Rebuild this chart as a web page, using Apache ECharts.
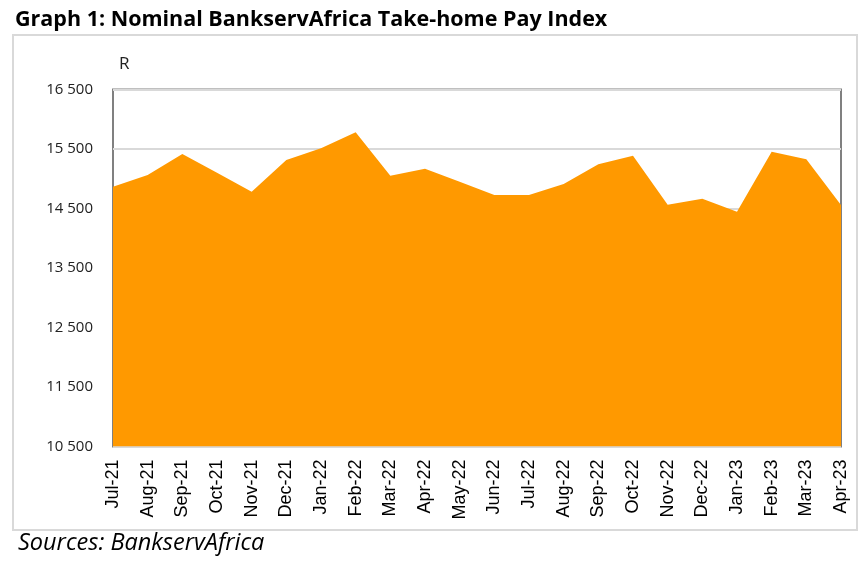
<!DOCTYPE html>
<html>
<head>
  <meta charset="utf-8">
  <title>Graph 1: Nominal BankservAfrica Take-home Pay Index</title>
  <script src="https://cdn.jsdelivr.net/npm/echarts@6/dist/echarts.min.js"></script>
  <style>
    body { margin: 0; background: #fff; }
  </style>
</head>
<body>
  <div id="main" style="width: 867px;height:571px;"></div>
  <script type="text/javascript">
    // months on the x axis
    var months = ['Jul-21', 'Aug-21', 'Sep-21', 'Oct-21', 'Nov-21', 'Dec-21', 'Jan-22', 'Feb-22',
      'Mar-22', 'Apr-22', 'May-22', 'Jun-22', 'Jul-22', 'Aug-22', 'Sep-22', 'Oct-22', 'Nov-22',
      'Dec-22', 'Jan-23', 'Feb-23', 'Mar-23', 'Apr-23'];
    // take-home pay (rand)
    var takeHomePay = [14866, 15063, 15416, 15100, 14783, 15315, 15511, 15780, 15052, 15169, 14951,
      14727, 14727, 14912, 15242, 15388, 14564, 14665, 14447, 15455, 15327, 14559];
    var yMin = 10500;
    var yMax = 16500;
    var yStep = 1000;

    var myChart = echarts.init(document.getElementById('main'), null, { renderer: 'canvas' });

    var option = {
      animation: false,
      title: {
        text: 'Graph 1: Nominal BankservAfrica Take-home Pay Index',
        left: 10,
        top: 4,
        textStyle: { fontFamily: 'Open Sans', fontWeight: 'bold', fontSize: 21.5, color: '#000' }
      },
      graphic: [
        {
          type: 'rect',
          shape: { x: 13, y: 35, width: 844, height: 495 },
          style: { fill: 'none', stroke: '#d9d9d9', lineWidth: 2 },
          z: -10
        },
        {
          type: 'text',
          left: 119,
          top: 56,
          style: { text: 'R', fontFamily: 'Open Sans', fontSize: 17, fill: '#222' }
        },
        {
          type: 'text',
          left: 18,
          top: 532,
          style: { text: 'Sources: BankservAfrica', fontFamily: 'Open Sans', fontStyle: 'italic', fontSize: 23.5, fill: '#000' }
        }
      ],
      grid: {
        left: 113,
        right: 26,
        top: 89.5,
        bottom: 124.5,
        show: true,
        borderColor: '#808080',
        borderWidth: 2
      },
      xAxis: {
        type: 'category',
        data: months,
        boundaryGap: false,
        axisLine: { show: false },
        axisTick: { show: false },
        axisLabel: {
          rotate: 90,
          interval: 0,
          margin: 13,
          fontFamily: 'Liberation Sans',
          fontSize: 18,
          color: '#000'
        }
      },
      yAxis: {
        type: 'value',
        min: yMin,
        max: yMax,
        interval: yStep,
        axisLine: { show: false },
        axisTick: { show: false },
        splitLine: { lineStyle: { color: '#d9d9d9', width: 2 } },
        axisLabel: {
          margin: 20,
          fontFamily: 'Open Sans',
          fontSize: 15,
          color: '#222',
          formatter: function (v) {
            return String(v).replace(/\B(?=(\d{3})+(?!\d))/g, ' ');
          }
        }
      },
      series: [{
        name: 'Take-home pay',
        type: 'line',
        data: takeHomePay,
        symbol: 'none',
        lineStyle: { width: 0 },
        areaStyle: { color: '#FF9900', opacity: 1, origin: 'start' }
      }]
    };

    myChart.setOption(option);
  </script>
</body>
</html>
